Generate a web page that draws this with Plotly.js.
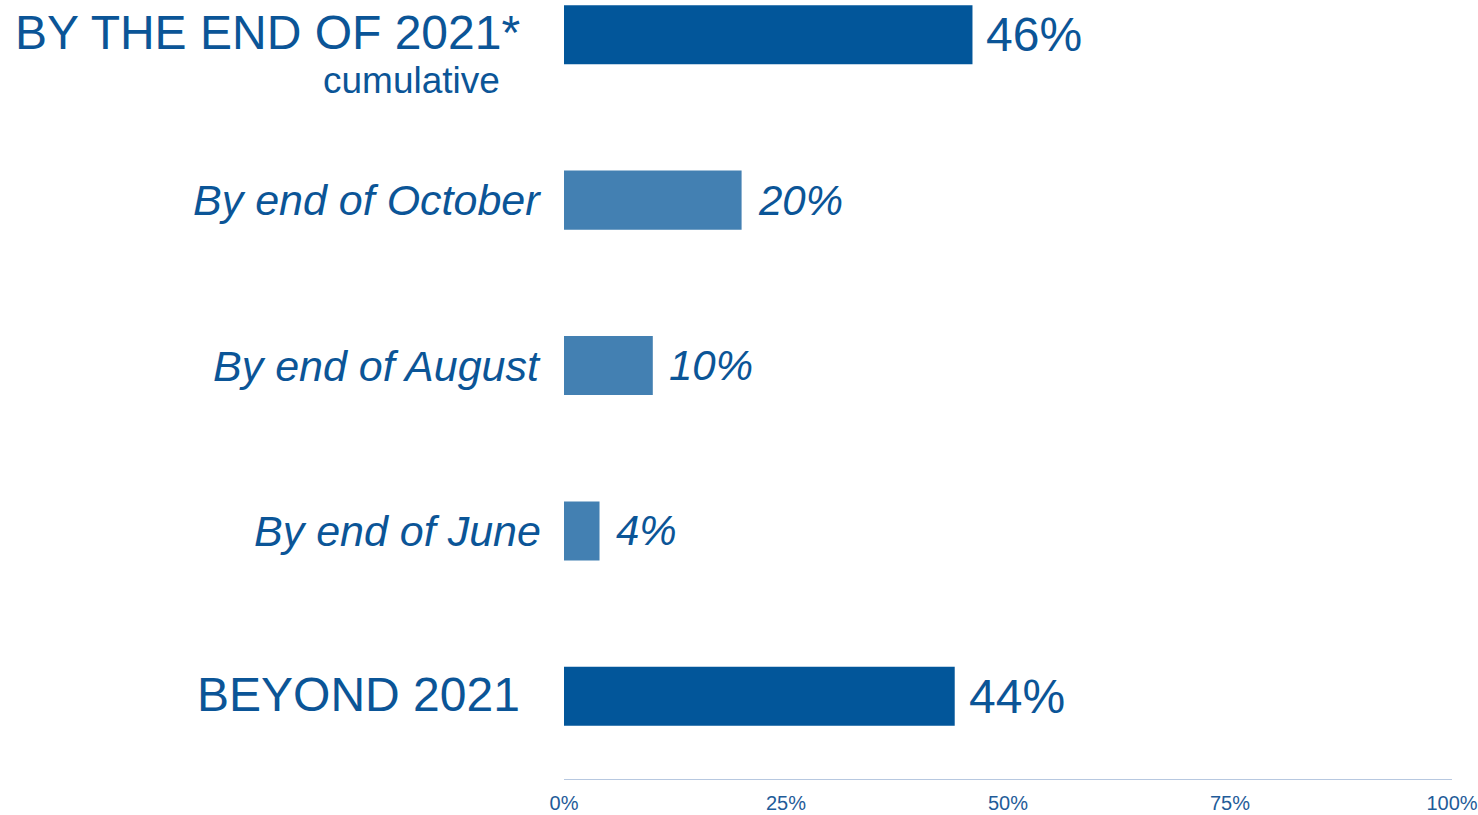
<!DOCTYPE html>
<html>
<head>
<meta charset="utf-8">
<script src="https://cdn.plot.ly/plotly-3.0.1.min.js"></script>
<style>
html,body{margin:0;padding:0;background:#fff;}
#chart{width:1478px;height:815px;}
</style>
</head>
<body>
<div id="chart"></div>
<script>
// Data
const categories = ["BY THE END OF 2021*", "By end of October", "By end of August", "By end of June", "BEYOND 2021"];
const summaryCats = ["BY THE END OF 2021*", "BEYOND 2021"];
const summaryValues = [46, 44];
const monthlyCats = ["By end of October", "By end of August", "By end of June"];
const monthlyValues = [20, 10, 4];
const subLabel = "cumulative";
const tickVals = [0, 25, 50, 75, 100];
const tickText = ["0%", "25%", "50%", "75%", "100%"];

const darkBlue = "#02569A";
const lightBlue = "#4380B2";
const textBlue = "#0B5597";
const FONT = "Liberation Sans, Arial, sans-serif";

const traces = [
  {
    type: "bar", orientation: "h",
    y: summaryCats, x: summaryValues,
    marker: {color: darkBlue},
    width: 0.357,
    hoverinfo: "skip"
  },
  {
    type: "bar", orientation: "h",
    y: monthlyCats, x: monthlyValues,
    marker: {color: lightBlue},
    width: 0.357,
    hoverinfo: "skip"
  }
];

const annotations = [];
// Category labels
categories.forEach(c => {
  const isSummary = summaryCats.includes(c);
  annotations.push({
    xref: "paper", yref: "y", x: 0, y: c,
    xanchor: "right", yanchor: "middle",
    xshift: isSummary ? -42 : -21,
    yshift: isSummary ? 2 : 0,
    text: c, showarrow: false,
    font: {family: FONT, size: isSummary ? 48 : 43, color: textBlue, style: isSummary ? "normal" : "italic"}
  });
});
annotations.push({
  xref: "paper", yref: "y", x: 0, y: summaryCats[0],
  xanchor: "right", yanchor: "middle",
  xshift: -62, yshift: -46,
  text: subLabel, showarrow: false,
  font: {family: FONT, size: 37, color: textBlue}
});
// Value labels
summaryCats.forEach((c, i) => {
  annotations.push({
    xref: "x", yref: "y", x: summaryValues[i], y: c,
    xanchor: "left", yanchor: "middle", xshift: 12,
    text: summaryValues[i] + "%", showarrow: false,
    font: {family: FONT, size: 48, color: textBlue}
  });
});
monthlyCats.forEach((c, i) => {
  annotations.push({
    xref: "x", yref: "y", x: monthlyValues[i], y: c,
    xanchor: "left", yanchor: "middle", xshift: 14,
    text: monthlyValues[i] + "%", showarrow: false,
    font: {family: FONT, size: 42, color: textBlue, style: "italic"}
  });
});

const layout = {
  width: 1478, height: 815,
  margin: {l: 564, r: 26, t: 0, b: 36},
  paper_bgcolor: "#fff", plot_bgcolor: "#fff",
  barmode: "overlay",
  showlegend: false,
  xaxis: {
    range: [0, 100], tickmode: "array", tickvals: tickVals, ticktext: tickText,
    showgrid: false, zeroline: false,
    showline: true, linecolor: "#B7C8E0", linewidth: 1,
    ticks: "", ticklabelstandoff: 6,
    tickfont: {family: FONT, size: 20, color: "#1F5C99"},
    fixedrange: true
  },
  yaxis: {
    type: "category", categoryorder: "array", categoryarray: categories,
    range: [4.5, -0.21], showticklabels: false,
    showgrid: false, zeroline: false, showline: false, ticks: "",
    fixedrange: true
  },
  annotations: annotations
};

Plotly.newPlot("chart", traces, layout, {displayModeBar: false, staticPlot: true});
</script>
</body>
</html>
